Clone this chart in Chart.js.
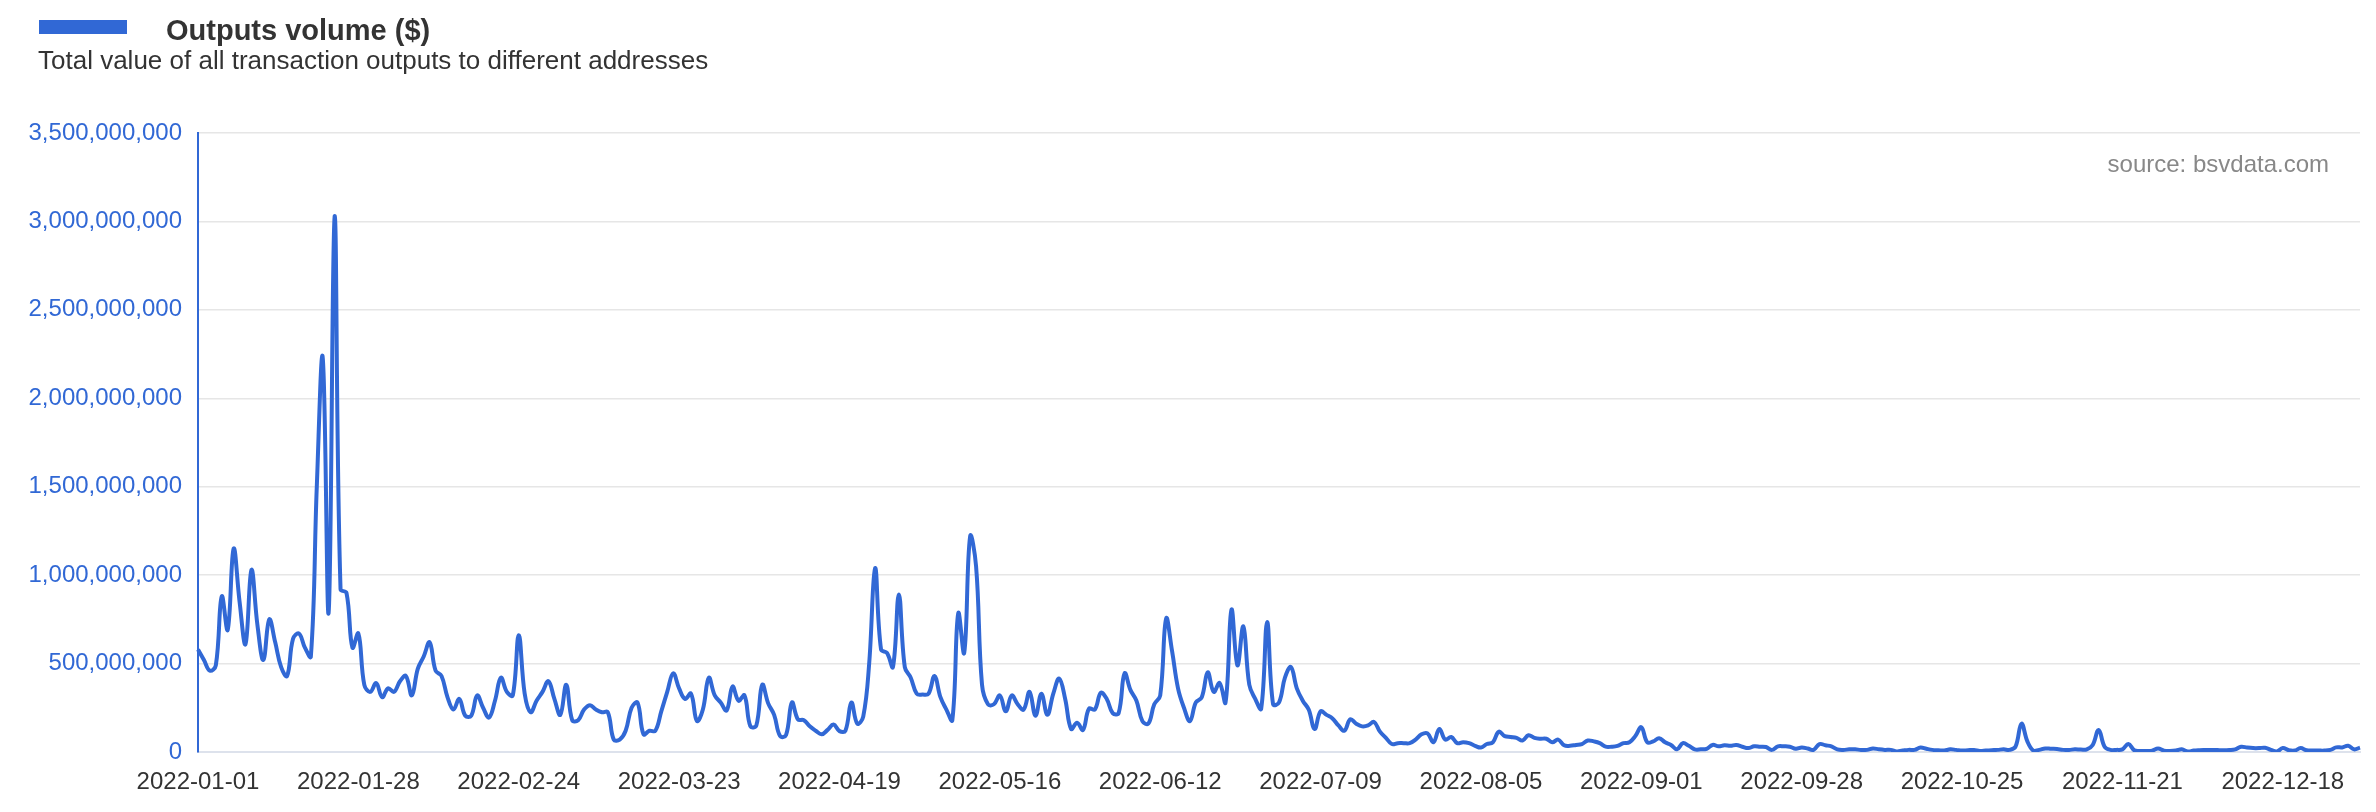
<!DOCTYPE html>
<html>
<head>
<meta charset="utf-8">
<script src="https://cdn.jsdelivr.net/npm/chart.js@4/dist/chart.umd.min.js"></script>
<style>
  body { margin: 0; background: #fff; font-family: "Liberation Sans", Arial, sans-serif; color: #333; }
  #wrap { position: relative; width: 2376px; height: 812px; }
  #chart { position: absolute; left: 0; top: 0; }
  .legendBox { position: absolute; left: 39px; top: 20px; width: 88px; height: 14px; background: #3168d5; }
  .title { position: absolute; left: 166px; top: 13px; font-size: 29px; font-weight: bold; line-height: 34px; white-space: nowrap; }
  .subtitle { position: absolute; left: 38px; top: 45px; font-size: 26px; line-height: 30px; white-space: nowrap; }
  .source { position: absolute; right: 47px; top: 150px; font-size: 24px; line-height: 28px; color: #888; white-space: nowrap; }
</style>
</head>
<body>
<div id="wrap">
  <canvas id="chart" width="2376" height="812"></canvas>
  <div class="legendBox"></div>
  <div class="title">Outputs volume ($)</div>
  <div class="subtitle">Total value of all transaction outputs to different addresses</div>
  <div class="source">source: bsvdata.com</div>
</div>
<script>
(function(){
    'use strict';

    // daily outputs volume, millions of $
    var q1 = [580,520,460,490,880,690,1150,850,610,1030,
        720,520,750,620,480,430,640,670,590,540,
        1500,2230,790,3030,920,900,590,670,380,340,
        390,310,360,340,400,430,320,470,540,620,
        460,430,310,240,300,205,205,320,250,195,
        290,420,340,320,660,330,225,290,340,400,
        300,210,380,180,180,240,265,240,225,225,
        70,70,120,250,280,100,120,120,230,340,
        445,360,300,330,175,240,420,320,280,235];
    var q2 = [370,290,320,145,150,380,275,210,90,95,
        280,185,180,145,120,100,125,155,118,120,
        280,160,200,500,1040,580,560,480,890,480,
        420,330,325,330,430,310,240,180,785,560,
        1220,1050,380,270,270,320,230,320,270,240,
        340,205,330,210,330,415,300,130,165,125,
        245,240,335,300,220,220,445,350,290,175,
        160,270,320,755,570,360,250,175,280,310,
        450,340,390,280,805,490,710,380,300,245,
        735];
    var q3 = [270,280,420,480,360,290,240,130,230,
        210,190,150,120,185,160,145,150,170,115,
        80,45,50,50,50,70,100,105,55,130,
        70,85,50,55,50,35,25,45,55,115,
        90,85,80,65,95,80,75,75,55,70,
        38,35,40,45,65,60,50,30,30,35,
        50,55,90,140,55,60,78,55,40,15,
        50,35,15,15,18,40,32,38,35,40,
        30,22,32,30,28,12,32,32,30,18,
        25,20,12];
    var q4 = [45,38,32,15,12,15,15,
        12,12,20,15,12,12,3,8,12,12,
        25,18,12,10,8,15,12,8,10,11,
        6,8,10,12,15,12,30,160,60,8,
        12,20,18,17,12,12,15,14,15,40,
        125,30,12,12,15,45,10,6,6,8,
        20,8,6,8,15,3,8,10,11,12,
        11,10,11,15,30,25,22,22,24,12,
        3,22,10,8,22,10,8,8,8,12,
        26,26,35,15,25];

    var startDate = '2022-01-01';
    var labelEvery = 27;
    var yTicks = [0,500000000,1000000000,1500000000,2000000000,2500000000,3000000000,3500000000];

    var lineColor = '#3168d5';

    var millions = q1.concat(q2, q3, q4);
    var values = millions.map(function(v){ return v * 1000000; });

    var labels = [];
    var d0 = new Date(startDate + 'T00:00:00Z');
    for (var i = 0; i < values.length; i++) {
        var d = new Date(d0.getTime() + i * 86400000);
        labels.push(d.toISOString().slice(0, 10));
    }

    var font = '"Liberation Sans", Arial, sans-serif';

    new Chart(document.getElementById('chart'), {
        type: 'line',
        data: {
            labels: labels,
            datasets: [{
                label: 'Outputs volume ($)',
                data: values,
                borderColor: lineColor,
                borderWidth: 4,
                pointRadius: 0,
                tension: 0.4,
                fill: false
            }]
        },
        options: {
            responsive: false,
            devicePixelRatio: 1,
            animation: false,
            layout: { padding: { top: 133, right: 12, bottom: 0, left: 0 } },
            plugins: {
                legend: { display: false },
                tooltip: { enabled: false }
            },
            scales: {
                x: {
                    grid: { display: false, drawTicks: false },
                    border: { display: true, color: '#dde2ec', width: 2 },
                    ticks: {
                        autoSkip: false,
                        maxRotation: 0,
                        padding: 16,
                        color: '#333',
                        font: { family: font, size: 24 },
                        callback: function(val, idx){
                            return idx % labelEvery === 0 ? labels[idx] : '';
                        }
                    },
                    afterFit: function(scale){ scale.height = 60; }
                },
                y: {
                    min: 0,
                    max: 3500000000,
                    afterBuildTicks: function(scale){
                        scale.ticks = yTicks.map(function(v){ return { value: v }; });
                    },
                    grid: { color: '#e6e6e6', lineWidth: 1.5, drawTicks: false },
                    border: { display: true, color: lineColor, width: 2 },
                    ticks: {
                        padding: 16,
                        color: lineColor,
                        font: { family: font, size: 24 },
                        callback: function(v){ return Number(v).toLocaleString('en-US'); }
                    },
                    afterFit: function(scale){ scale.width = 198; }
                }
            }
        }
    });
})();
</script>
</body>
</html>
